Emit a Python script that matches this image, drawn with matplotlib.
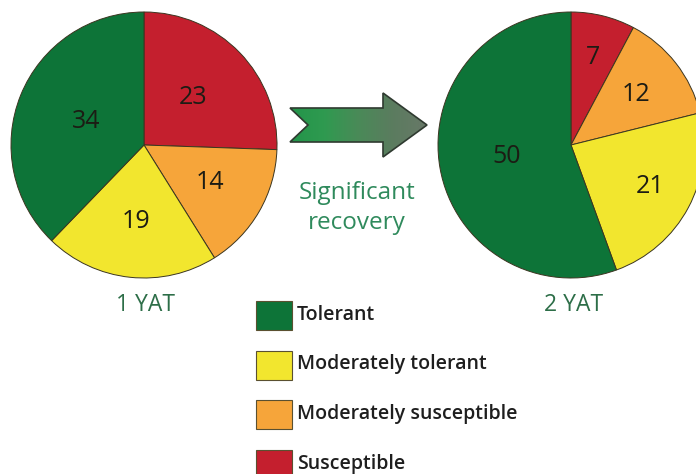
import numpy as np
import matplotlib.pyplot as plt
from matplotlib.patches import Polygon, Rectangle
from matplotlib.colors import LinearSegmentedColormap

# data
categories = ["Tolerant", "Moderately tolerant", "Moderately susceptible", "Susceptible"]
colors = ["#0d7438", "#f2e62e", "#f6a53a", "#c41f2e"]
yat1 = [34, 19, 14, 23]
yat2 = [50, 21, 12, 7]
pie_titles = ["1 YAT", "2 YAT"]
arrow_text = "Significant\nrecovery"

# label distances (fraction of radius) per slice
dist1 = [0.47, 0.58, 0.57, 0.51]
dist2 = [0.49, 0.67, 0.62, 0.68]

plt.rcParams['font.family'] = ['Open Sans', 'DejaVu Sans']

W, H = 696, 474
fig = plt.figure(figsize=(W / 100, H / 100), dpi=100)
ax = fig.add_axes([0, 0, 1, 1])


def draw_pie(values, center, dists):
    # reverse order so slices go clockwise from top: red, orange, yellow, green
    vals = values[::-1]
    cols = colors[::-1]
    ds = dists[::-1]
    wedges, _ = ax.pie(vals, colors=cols, startangle=90, counterclock=False,
                       center=center, radius=133,
                       wedgeprops=dict(edgecolor="#3b3520", linewidth=0.7))
    for w, v, d in zip(wedges, vals, ds):
        ang = np.deg2rad((w.theta1 + w.theta2) / 2)
        x = center[0] + d * 133 * np.cos(ang)
        y = center[1] + d * 133 * np.sin(ang)
        ax.text(x, y, str(v), ha="center", va="center", fontsize=18,
                color="#1c1c14")


draw_pie(yat1, (144, H - 145), dist1)
draw_pie(yat2, (571, H - 145), dist2)

ax.text(145, H - 305, pie_titles[0], ha="center", va="center", fontsize=16.5,
        color="#2d6e48")
ax.text(574, H - 305, pie_titles[1], ha="center", va="center", fontsize=16.5,
        color="#2d6e48")

# arrow with gradient fill
verts = [(290, 108), (383, 108), (383, 93), (427, 125), (383, 157),
         (383, 142), (290, 142), (308, 125)]
verts = [(x, H - y) for x, y in verts]
poly = Polygon(verts, closed=True, facecolor="none", edgecolor="#2f3a30",
               linewidth=1.2, zorder=4)
ax.add_patch(poly)
grad = np.linspace(0, 1, 256).reshape(1, -1)
cmap = LinearSegmentedColormap.from_list("arr", ["#23954a", "#2f9a50", "#4a8a58", "#5b7c5f", "#687868"])
im = ax.imshow(grad, cmap=cmap, extent=(290, 427, H - 157, H - 93),
               aspect="auto", zorder=3)
clip = Polygon(verts, closed=True, transform=ax.transData, facecolor="none")
im.set_clip_path(clip)

ax.text(357, H - 208, arrow_text, ha="center", va="center", fontsize=17.5,
        color="#2f8a5c", linespacing=1.35)

# legend
for i, (lab, c) in enumerate(zip(categories, colors)):
    ytop = 301 + i * 49.5
    ax.add_patch(Rectangle((256, H - ytop - 29), 36, 29, facecolor=c,
                           edgecolor="#5a5030", linewidth=0.8))
    ax.text(297, H - ytop - 14, lab, ha="left", va="center", fontsize=14,
            fontweight="semibold", color="#1e1e1e")

ax.set_xlim(0, W)
ax.set_ylim(0, H)
ax.set_aspect("auto")
ax.axis("off")
fig.savefig("out.png", dpi=100)
